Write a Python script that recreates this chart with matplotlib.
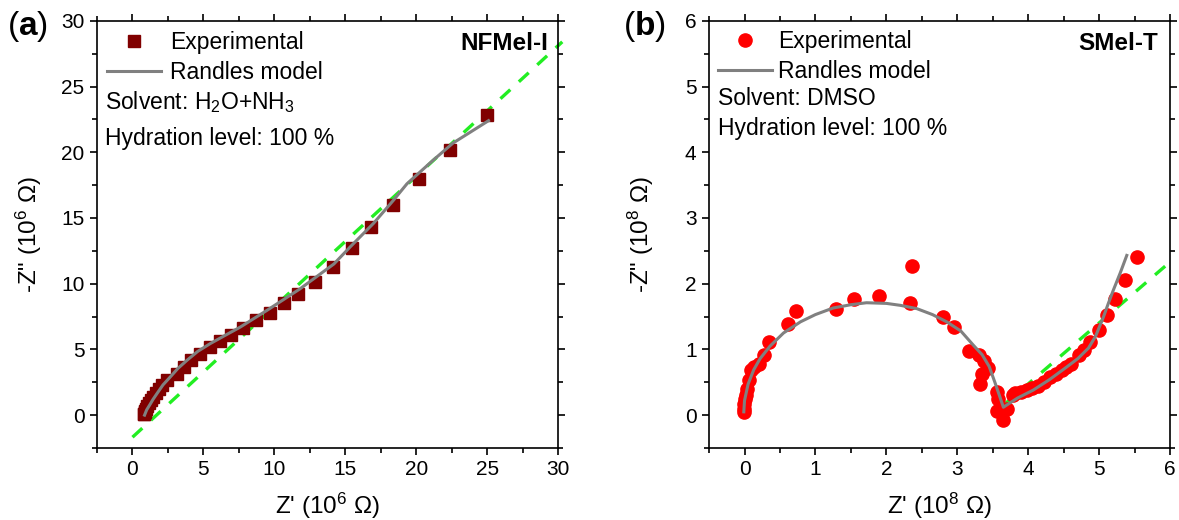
import matplotlib
matplotlib.use('Agg')
import matplotlib.pyplot as plt
from matplotlib.lines import Line2D
from matplotlib.ticker import MultipleLocator

plt.rcParams['font.family'] = ['Liberation Sans', 'DejaVu Sans']
plt.rcParams['mathtext.fontset'] = 'custom'
plt.rcParams['mathtext.rm'] = 'Liberation Sans'
plt.rcParams['mathtext.it'] = 'Liberation Sans:italic'
plt.rcParams['mathtext.bf'] = 'Liberation Sans:bold'

# (a) NFMel-I, 10^6 Ohm
a_exp_x = [0.80, 0.82, 0.85, 0.90, 0.95, 1.05, 1.15, 1.30, 1.45, 1.65, 1.85, 2.10, 2.43,
           3.13, 3.60, 4.12, 4.77, 5.48, 6.14, 6.96, 7.79, 8.72, 9.66, 10.65, 11.65,
           12.85, 14.15, 15.5, 16.8, 18.4, 20.2, 22.4, 25.0]
a_exp_y = [0.05, 0.10, 0.20, 0.35, 0.50, 0.70, 0.90, 1.15, 1.40, 1.70, 2.00, 2.30, 2.64,
           3.15, 3.66, 4.17, 4.68, 5.18, 5.64, 6.07, 6.65, 7.20, 7.77, 8.55, 9.25,
           10.1, 11.3, 12.75, 14.3, 16.0, 17.95, 20.2, 22.8]
a_fit_x = [0.85, 1.0, 1.2, 1.45, 1.72, 2.15, 2.66, 3.2, 3.84, 4.6, 5.48, 6.5, 7.6, 9.48,
           11.8, 14.2, 15.35, 17.0, 18.4, 19.35, 21.2, 22.6, 25.1]
a_fit_y = [0.0, 0.4, 0.75, 1.2, 1.63, 2.3, 2.9, 3.55, 4.17, 4.85, 5.44, 6.05, 6.7, 7.97,
           9.6, 11.5, 12.8, 14.6, 16.35, 17.6, 19.4, 20.7, 22.4]
a_lin_x = [0.0, 30.3]
a_lin_y = [-1.68, 28.4]

# (b) SMel-T, 10^8 Ohm
b_exp_x = [-0.01, -0.01, -0.01, 0.0, 0.02, 0.04, 0.07, 0.09, 0.14, 0.20, 0.28, 0.35,
           0.61, 0.73, 1.29, 1.55, 1.90, 2.33, 2.36, 2.80, 2.95, 3.16, 3.31, 3.37,
           3.44, 3.35, 3.32, 3.56, 3.58, 3.56, 3.64, 3.70, 3.79, 3.82, 3.90, 3.98,
           4.06, 4.14, 4.22, 4.31, 4.39, 4.47, 4.54, 4.61, 4.71, 4.78, 4.87, 5.00,
           5.11, 5.23, 5.37, 5.54]
b_exp_y = [0.05, 0.10, 0.17, 0.24, 0.30, 0.40, 0.53, 0.68, 0.73, 0.78, 0.92, 1.11,
           1.39, 1.59, 1.62, 1.76, 1.81, 1.71, 2.27, 1.50, 1.34, 0.97, 0.92, 0.83,
           0.71, 0.63, 0.48, 0.35, 0.25, 0.07, -0.08, 0.10, 0.30, 0.33, 0.35, 0.38,
           0.42, 0.45, 0.51, 0.58, 0.63, 0.68, 0.73, 0.78, 0.91, 0.99, 1.11, 1.29,
           1.52, 1.77, 2.06, 2.40]
b_fit_x = [-0.01, 0.0, 0.05, 0.13, 0.22, 0.36, 0.55, 0.79, 1.0, 1.25, 1.5, 1.72, 2.0,
           2.2, 2.43, 2.65, 2.85, 3.05, 3.23, 3.35, 3.45, 3.53, 3.6, 3.65,
           3.85, 4.07, 4.3, 4.54, 4.7, 4.85, 4.95, 5.06, 5.13, 5.2, 5.3, 5.39]
b_fit_y = [0.05, 0.22, 0.47, 0.69, 0.86, 1.05, 1.25, 1.42, 1.53, 1.63, 1.68, 1.71, 1.70,
           1.67, 1.62, 1.53, 1.42, 1.28, 1.06, 0.92, 0.74, 0.50, 0.28, 0.12,
           0.26, 0.38, 0.54, 0.73, 0.86, 1.02, 1.20, 1.49, 1.70, 1.90, 2.17, 2.43]
b_lin_x = [3.65, 6.0]
b_lin_y = [0.15, 2.33]

fig = plt.figure(figsize=(11.79, 5.2), dpi=100)
ax1 = fig.add_axes([0.0823, 0.1385, 0.391, 0.8215])
ax2 = fig.add_axes([0.6014, 0.1385, 0.391, 0.8215])

fs = 16.5      # 图中文字
fs_tick = 15   # 刻度标签
fs_lab = 17.5  # 坐标轴标题


def style(ax, xlim, ylim, xmaj, ymaj):
    ax.set_xlim(*xlim)
    ax.set_ylim(*ylim)
    ax.xaxis.set_major_locator(MultipleLocator(xmaj))
    ax.xaxis.set_minor_locator(MultipleLocator(xmaj / 2))
    ax.yaxis.set_major_locator(MultipleLocator(ymaj))
    ax.yaxis.set_minor_locator(MultipleLocator(ymaj / 2))
    ax.tick_params(which='both', direction='out', top=True, right=True,
                   labelsize=fs_tick, width=1.2, pad=4)
    ax.tick_params(which='major', length=5)
    ax.tick_params(which='minor', length=3.5)
    for s in ax.spines.values():
        s.set_linewidth(1.2)
    ax.xaxis.set_label_coords(0.5, -0.1)
    ax.yaxis.set_label_coords(-0.115, 0.5)


# 面板 (a)
ax1.plot(a_lin_x, a_lin_y, color='#22ee22', lw=2.4, dashes=(4, 3.5), clip_on=False, zorder=1)
ax1.plot(a_exp_x, a_exp_y, 's', color='#800000', ms=8.7, mec='#800000', zorder=2)
ax1.plot(a_fit_x, a_fit_y, '-', color='#808080', lw=2.2, zorder=3)
style(ax1, (-2.5, 30), (-2.5, 30), 5, 5)
ax1.set_xlabel("Z' (10$^6$ Ω)", fontsize=fs_lab)
ax1.set_ylabel('-Z" (10$^6$ Ω)', fontsize=fs_lab)
h1 = [Line2D([], [], ls='none', marker='s', color='#800000', ms=8.7),
      Line2D([], [], color='#808080', lw=2.2)]
ax1.legend(h1, ['Experimental', 'Randles model'], loc='upper left', bbox_to_anchor=(0, 1),
           frameon=False, fontsize=fs, handlelength=2.35, handletextpad=0.4,
           labelspacing=0.32, borderaxespad=0.1, borderpad=0.35)
ax1.text(0.017, 0.810, 'Solvent: H$_2$O+NH$_3$', transform=ax1.transAxes, fontsize=fs, va='center')
ax1.text(0.017, 0.725, 'Hydration level: 100 %', transform=ax1.transAxes, fontsize=fs, va='center')
ax1.text(0.978, 0.947, 'NFMel-I', transform=ax1.transAxes, fontsize=17.5, fontweight='bold',
         ha='right', va='center')
fig.text(0.006, 0.95, '($\\mathbf{a}$)', fontsize=24, va='center')

# 面板 (b)
ax2.plot(b_lin_x, b_lin_y, color='#22ee22', lw=2.4, dashes=(4, 3.5), zorder=1)
ax2.plot(b_exp_x, b_exp_y, 'o', color='#ff0000', ms=9.5, zorder=2)
ax2.plot(b_fit_x, b_fit_y, '-', color='#808080', lw=2.2, zorder=3)
style(ax2, (-0.5, 6), (-0.5, 6), 1, 1)
ax2.set_xlabel("Z' (10$^8$ Ω)", fontsize=fs_lab)
ax2.set_ylabel('-Z" (10$^8$ Ω)', fontsize=fs_lab)
h2 = [Line2D([], [], ls='none', marker='o', color='#ff0000', ms=9.5),
      Line2D([], [], color='#808080', lw=2.2)]
ax2.legend(h2, ['Experimental', 'Randles model'], loc='upper left', bbox_to_anchor=(0, 1),
           frameon=False, fontsize=fs, handlelength=2.35, handletextpad=0.25,
           labelspacing=0.3, borderaxespad=0.1, borderpad=0.3)
ax2.text(0.02, 0.819, 'Solvent: DMSO', transform=ax2.transAxes, fontsize=fs, va='center')
ax2.text(0.02, 0.749, 'Hydration level: 100 %', transform=ax2.transAxes, fontsize=fs, va='center')
ax2.text(0.974, 0.947, 'SMel-T', transform=ax2.transAxes, fontsize=17.5, fontweight='bold',
         ha='right', va='center')
fig.text(0.528, 0.95, '($\\mathbf{b}$)', fontsize=24, va='center')

fig.savefig('out.png', dpi=100)
